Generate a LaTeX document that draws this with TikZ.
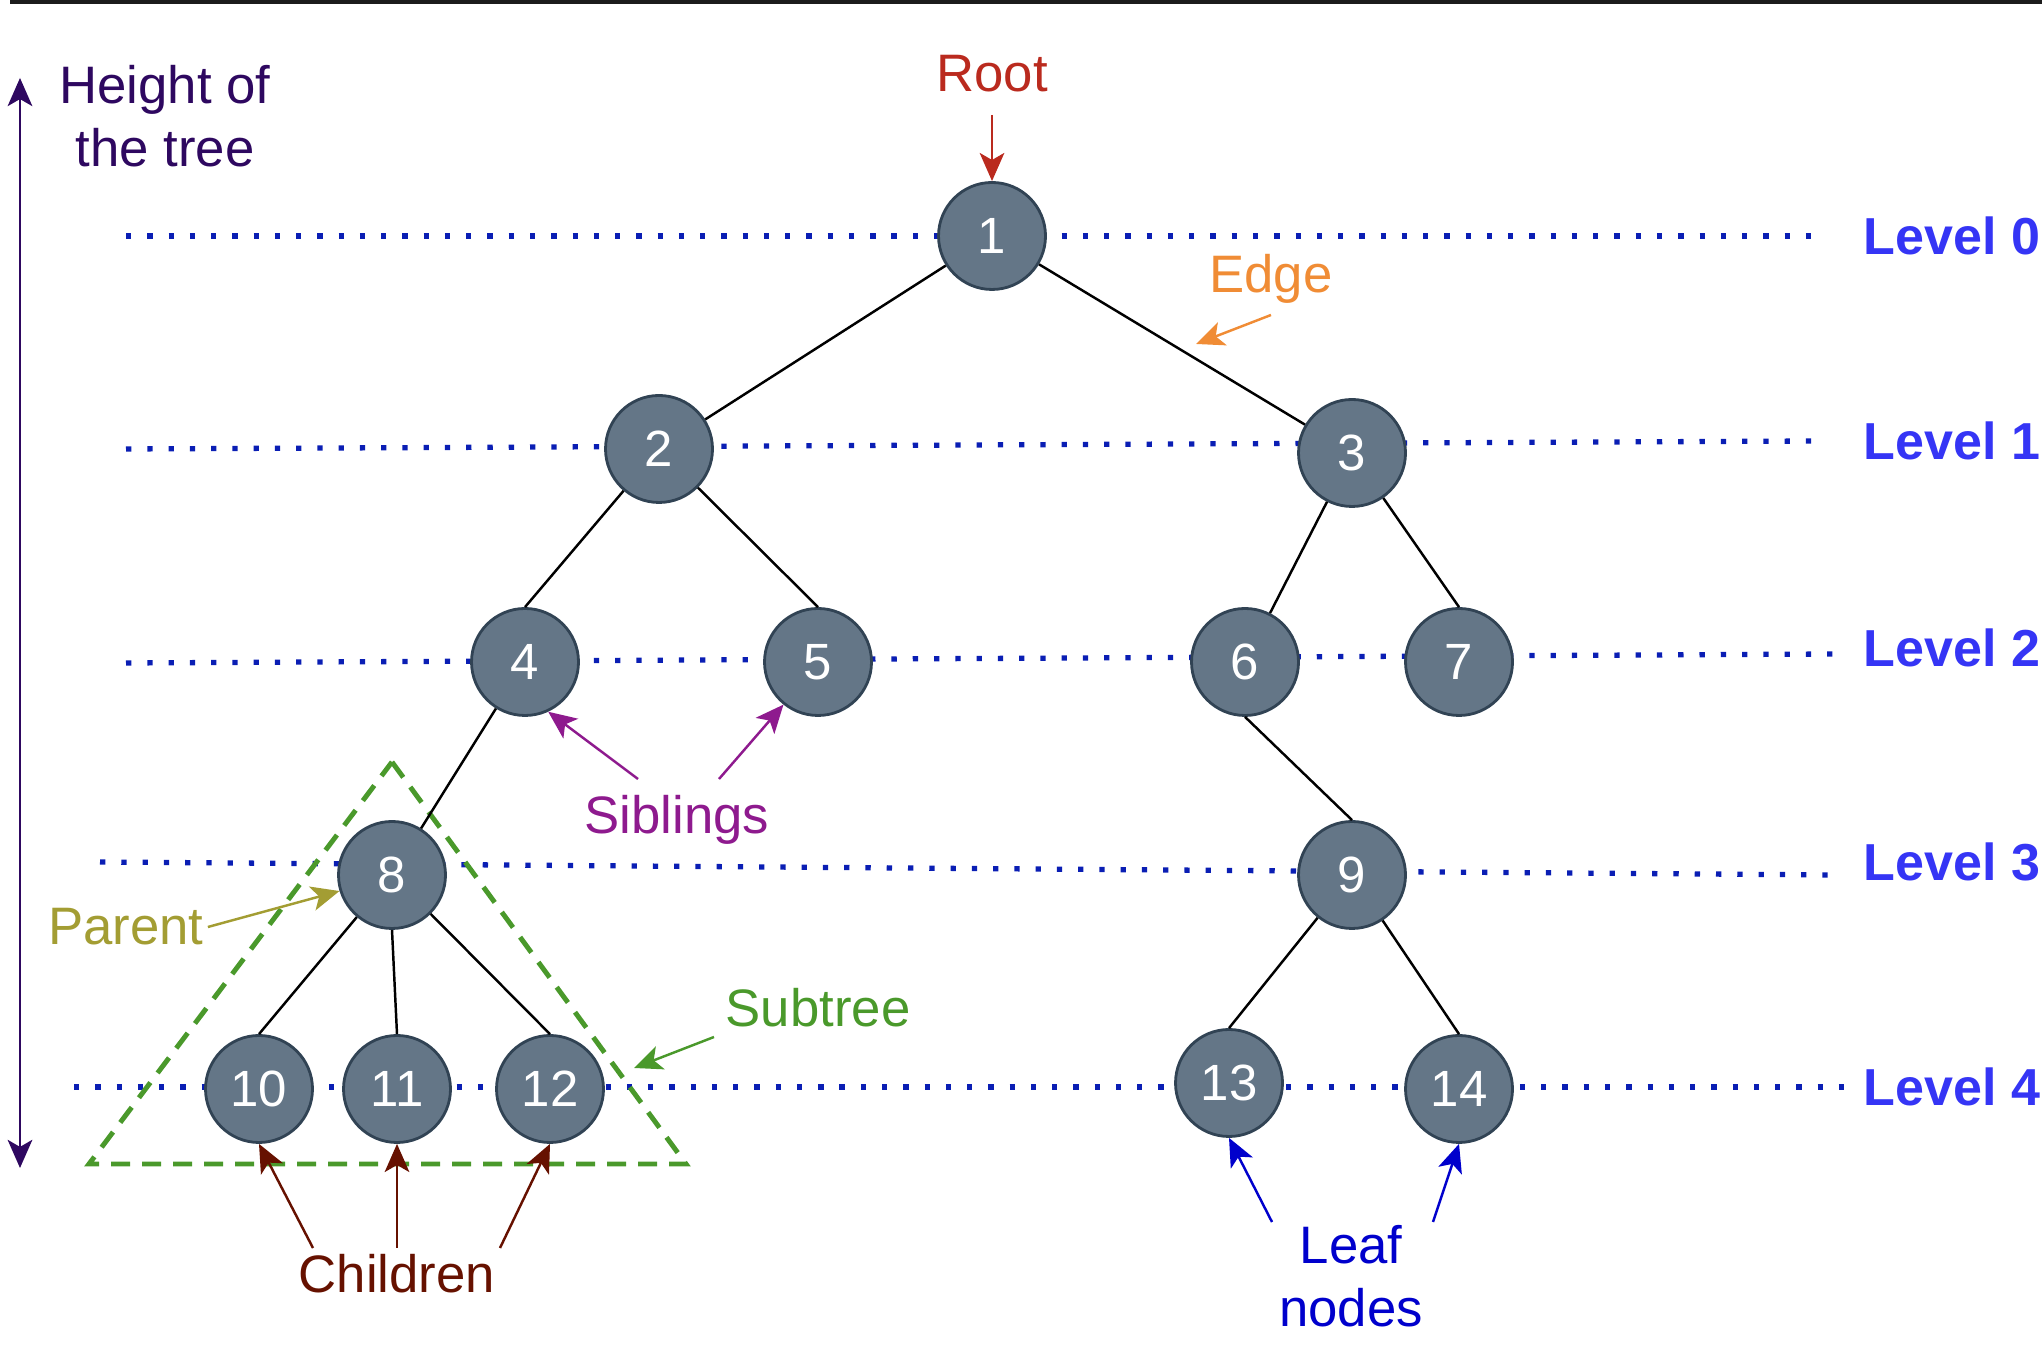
\documentclass[tikz,border=0pt]{standalone}
\usepackage{fontspec}
\setmainfont{Liberation Sans}
\usetikzlibrary{arrows.meta}
\definecolor{nodefill}{HTML}{647687}
\definecolor{nodeline}{HTML}{314354}
\definecolor{levdot}{HTML}{0A1EB4}
\definecolor{levtext}{HTML}{3535F5}
\definecolor{rootred}{HTML}{BA2A1E}
\definecolor{edgeorange}{HTML}{F08C35}
\definecolor{heightpurple}{HTML}{2E0860}
\definecolor{sibpurple}{HTML}{8E1A8E}
\definecolor{parentolive}{HTML}{A39D33}
\definecolor{subgreen}{HTML}{4A992B}
\definecolor{childbrown}{HTML}{661100}
\definecolor{leafblue}{HTML}{0000CC}
\definecolor{frameline}{HTML}{1C1C1C}

\begin{document}
\begin{tikzpicture}[scale=1,
  vert/.style={circle,draw=nodeline,fill=nodefill,line width=0.8pt,minimum size=1.07cm,inner sep=0pt,text=white,font=\fontsize{14.5}{17}\selectfont},
  lvl/.style={draw=levdot,line width=1.5pt,dash pattern=on 1.5pt off 4.55pt},
  lvltext/.style={anchor=west,text=levtext,inner sep=0pt,font=\fontsize{14.8}{18}\selectfont\bfseries},
  note/.style={align=center,inner sep=1pt,font=\fontsize{15}{18}\selectfont},
  >={Stealth[length=8pt,width=7pt,inset=2pt]}]

\useasboundingbox (0,0) rectangle (20.42,13.46);
\draw[line width=0.035cm,frameline] (0.1,13.44) -- (20.42,13.44);

% levels
\draw[lvl] (1.26,11.10) -- (18.19,11.10);
\draw[lvl] (1.26,8.97) -- (18.19,9.05);
\draw[lvl] (1.26,6.83) -- (18.36,6.92);
\draw[lvl] (1.00,4.84) -- (18.36,4.71);
\draw[lvl] (0.74,2.59) -- (18.49,2.59);

\node[lvltext] (L0) at (18.63,11.10) {Level 0};
\node[lvltext] (L1) at (18.63,9.05) {Level 1};
\node[lvltext] (L2) at (18.63,6.98) {Level 2};
\node[lvltext] (L3) at (18.63,4.84) {Level 3};
\node[lvltext] (L4) at (18.63,2.59) {Level 4};

% subtree
\draw[subgreen,line width=1.4pt,dash pattern=on 0.19cm off 0.12cm] (3.92,5.84) -- (6.86,1.82) -- (0.89,1.82) -- cycle;

% tree
\node[vert] (N1) at (9.92,11.10) {1};
\node[vert] (N2) at (6.59,8.97) {2};
\node[vert] (N3) at (13.52,8.93) {3};
\node[vert] (N4) at (5.25,6.84) {4};
\node[vert] (N5) at (8.18,6.84) {5};
\node[vert] (N6) at (12.45,6.84) {6};
\node[vert] (N7) at (14.59,6.84) {7};
\node[vert] (N8) at (3.92,4.71) {8};
\node[vert] (N9) at (13.52,4.71) {9};
\node[vert] (N10) at (2.59,2.57) {10};
\node[vert] (N11) at (3.97,2.57) {11};
\node[vert] (N12) at (5.50,2.57) {12};
\node[vert] (N13) at (12.29,2.63) {13};
\node[vert] (N14) at (14.59,2.57) {14};

\path[black,line width=0.7pt] (N1) edge (N2) (N1) edge (N3);
\path[black,line width=0.7pt] (N2) edge (N4.north) (N2) edge (N5.north);
\path[black,line width=0.7pt] (N3) edge (N6) (N3) edge (N7.north);
\path[black,line width=0.7pt] (N4) edge (N8) (N6.south) edge (N9.north);
\path[black,line width=0.7pt] (N8) edge (N10.north) (N8.south) edge (N11.north) (N8) edge (N12.north);
\path[black,line width=0.7pt] (N9) edge (N13.north) (N9) edge (N14.north);

% labels
\node[note,text=rootred] (root) at (9.92,12.72) {Root};
\coordinate (rootfrom) at (9.92,12.31);
\path[->,rootred,line width=0.7pt] (rootfrom) edge (N1);

\node[note,text=edgeorange] (edg) at (12.71,10.67) {Edge};
\coordinate (edgefrom) at (12.71,10.31);
\coordinate (edgeto) at (11.96,10.02);
\path[->,edgeorange,line width=0.7pt] (edgefrom) edge (edgeto);

\node[note,text=heightpurple] (hgt) at (1.65,12.30) {Height of\\the tree};
\coordinate (htop) at (0.2,12.68);
\coordinate (hbot) at (0.2,1.78);
\path[<->,heightpurple,line width=0.8pt] (hbot) edge (htop);

\node[note,text=sibpurple] (sib) at (6.77,5.26) {Siblings};
\coordinate (sibA) at (6.38,5.67);
\coordinate (sibB) at (7.19,5.67);
\path[->,sibpurple,line width=0.7pt] (sibA) edge (N4.-65);
\path[->,sibpurple,line width=0.7pt] (sibB) edge (N5.-129);

\node[note,text=parentolive] (par) at (1.26,4.19) {Parent};
\path[->,parentolive,line width=0.7pt] (par.east) edge (N8.197);

\node[note,text=subgreen] (sub) at (8.18,3.38) {Subtree};
\coordinate (subfrom) at (7.14,3.09);
\coordinate (subto) at (6.34,2.78);
\path[->,subgreen,line width=0.7pt] (subfrom) edge (subto);

\node[note,text=childbrown] (chl) at (3.97,0.72) {Children};
\coordinate (chA) at (3.13,0.98);
\coordinate (chB) at (3.97,0.98);
\coordinate (chC) at (5.00,0.98);
\path[->,childbrown,line width=0.7pt] (chA) edge (N10.south);
\path[->,childbrown,line width=0.7pt] (chB) edge (N11.south);
\path[->,childbrown,line width=0.7pt] (chC) edge (N12.south);

\node[note,text=leafblue] (leaf) at (13.51,0.70) {Leaf\\nodes};
\coordinate (leafA) at (12.72,1.24);
\coordinate (leafB) at (14.33,1.24);
\path[->,leafblue,line width=0.7pt] (leafA) edge (N13.south);
\path[->,leafblue,line width=0.7pt] (leafB) edge (N14.south);
\end{tikzpicture}
\end{document}
